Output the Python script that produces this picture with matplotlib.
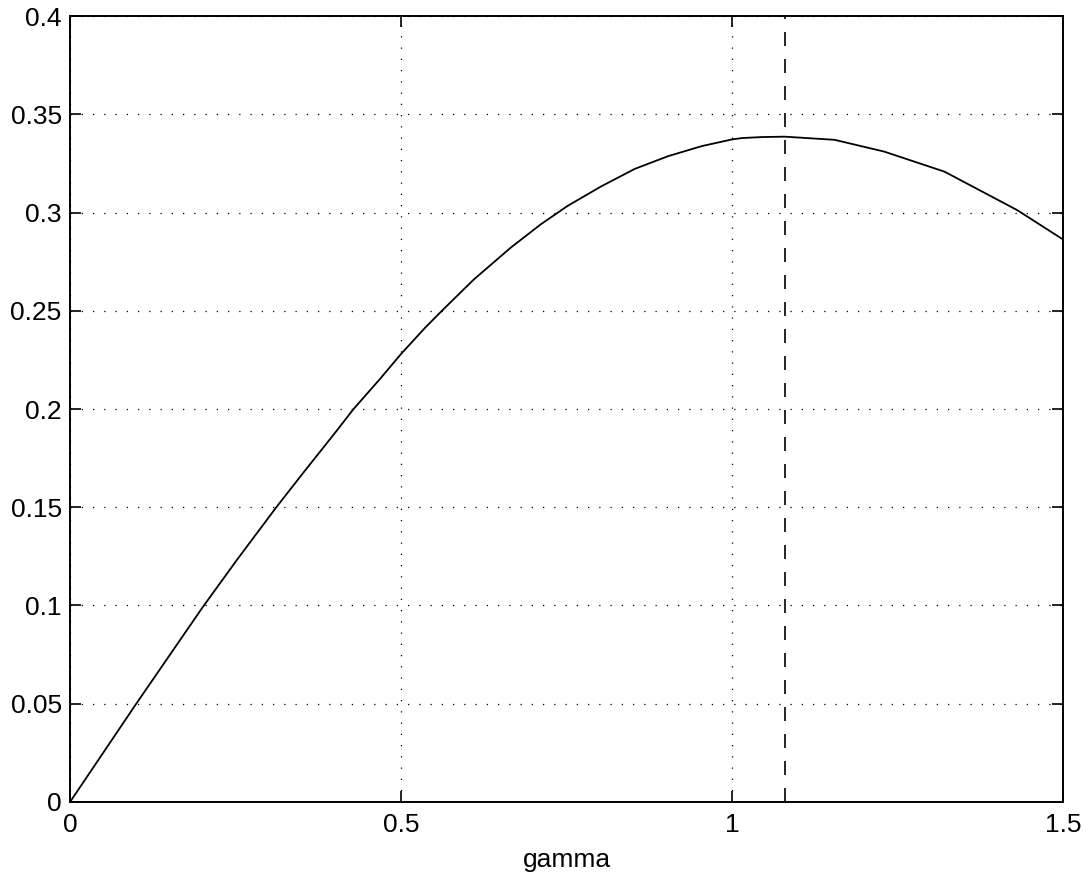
import matplotlib
matplotlib.use("Agg")
import matplotlib.pyplot as plt

plt.rcParams['font.family'] = ['Liberation Sans', 'DejaVu Sans']

# curve samples
gamma = [0, 0.1, 0.2005, 0.251, 0.3116, 0.352, 0.4025, 0.4278, 0.468, 0.5,
         0.5365, 0.5618, 0.6099, 0.6657, 0.7112, 0.7518, 0.8024, 0.8531,
         0.9037, 0.9544, 1.0, 1.0152, 1.045, 1.08, 1.155, 1.23, 1.321,
         1.431, 1.5]
value = [0, 0.05, 0.0992, 0.1227, 0.15, 0.1674, 0.1888, 0.1998, 0.2152, 0.228,
         0.2414, 0.25, 0.2659, 0.2821, 0.294, 0.3034, 0.3133, 0.3222,
         0.3287, 0.3338, 0.3372, 0.3379, 0.3384, 0.3386, 0.337, 0.331, 0.3208,
         0.3012, 0.2863]
gamma_opt = 1.08

xticks = [0, 0.5, 1, 1.5]
xticklabels = ['0', '0.5', '1', '1.5']
yticks = [0, 0.05, 0.1, 0.15, 0.2, 0.25, 0.3, 0.35, 0.4]
yticklabels = ['0', '0.05', '0.1', '0.15', '0.2', '0.25', '0.3', '0.35', '0.4']

fig = plt.figure(figsize=(10.91, 8.76), dpi=100)
ax = fig.add_axes([0.0642, 0.0845, 0.9101, 0.8972])

ax.plot(gamma, value, color='black', linewidth=1.3)
ax.axvline(gamma_opt, color='black', linewidth=1.2, linestyle=(0, (8.4, 7.8)))

ax.set_xlim(0, 1.5)
ax.set_ylim(0, 0.4)
ax.set_xticks(xticks)
ax.set_xticklabels(xticklabels)
ax.set_yticks(yticks)
ax.set_yticklabels(yticklabels)

ax.grid(True, color='black', linestyle=(0, (1, 8)), linewidth=0.9)
ax.tick_params(direction='in', length=8, width=1.2, labelsize=19,
               top=True, right=True, pad=6, colors='black')
ax.tick_params(axis='x', pad=8)
for s in ax.spines.values():
    s.set_linewidth(1.4)

ax.set_xlabel('gamma', fontsize=19, labelpad=8)

fig.savefig('out.png', dpi=100)
